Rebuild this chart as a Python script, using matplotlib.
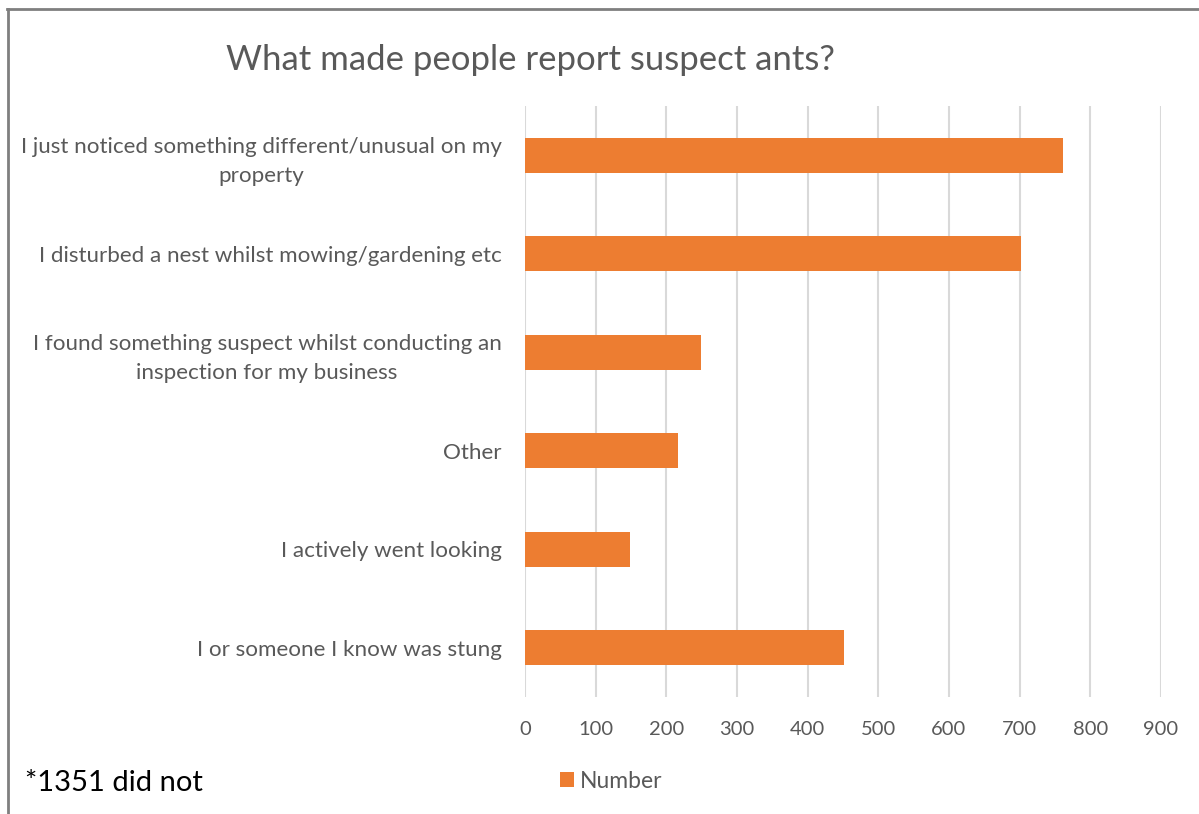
import matplotlib
matplotlib.use("Agg")
import matplotlib.pyplot as plt
from matplotlib.patches import Patch
from matplotlib.lines import Line2D

categories = [
    "I just noticed something different/unusual on my\nproperty",
    "I disturbed a nest whilst mowing/gardening etc",
    "I found something suspect whilst conducting an\ninspection for my business",
    "Other",
    "I actively went looking",
    "I or someone I know was stung",
]
values = [762, 702, 249, 217, 149, 451]
xticks = [0, 100, 200, 300, 400, 500, 600, 700, 800, 900]

BAR = "#ED7D31"
GRID = "#D9D9D9"
TEXT = "#595959"

plt.rcParams["font.family"] = ["Lato", "DejaVu Sans"]

fig = plt.figure(figsize=(11.99, 8.14), dpi=100)
ax = fig.add_axes([525 / 1199, 1 - 697 / 814, 636 / 1199, 591 / 814])

ypos = list(range(len(categories)))
ax.barh(ypos, values, height=0.355, color=BAR, zorder=3)
ax.set_ylim(len(categories) - 0.5, -0.5)
ax.set_xlim(0, 900)
ax.set_xticks(xticks)
ax.set_xticklabels([str(t) for t in xticks])
ax.set_yticks(ypos)
ax.set_yticklabels(categories)

for s in ax.spines.values():
    s.set_visible(False)
ax.grid(axis="x", color=GRID, linewidth=1.5, zorder=0)
ax.tick_params(axis="x", length=0, pad=17, labelsize=14.5, labelcolor=TEXT)
ax.tick_params(axis="y", length=0, pad=17, labelsize=16.1, labelcolor=TEXT)

# wrapped category labels: centred lines, looser line spacing
for lbl in ax.get_yticklabels():
    lbl.set_multialignment("center")
    lbl.set_linespacing(1.55)

fig.text(530 / 1199, 1 - 60 / 814, "What made people report suspect ants?",
         ha="center", va="center", fontsize=25, color=TEXT)

fig.text(25 / 1199, 1 - 783 / 814, "*1351 did not", ha="left", va="center",
         fontsize=21, color="black")

fig.legend(handles=[Patch(facecolor=BAR)], labels=["Number"],
           loc="center", bbox_to_anchor=(611 / 1199, 1 - 781 / 814),
           frameon=False, fontsize=16.5, labelcolor=TEXT,
           handlelength=0.6, handleheight=0.6, handletextpad=0.25)

# chart frame along the top and left edges
fig.add_artist(Line2D([7 / 1199, 1], [1 - 8.5 / 814, 1 - 8.5 / 814],
                      transform=fig.transFigure, color="#7F7F7F", linewidth=2))
fig.add_artist(Line2D([7.5 / 1199, 7.5 / 1199], [0, 1 - 8.5 / 814],
                      transform=fig.transFigure, color="#7F7F7F", linewidth=2))

fig.savefig("out.png", dpi=100, facecolor="white")
